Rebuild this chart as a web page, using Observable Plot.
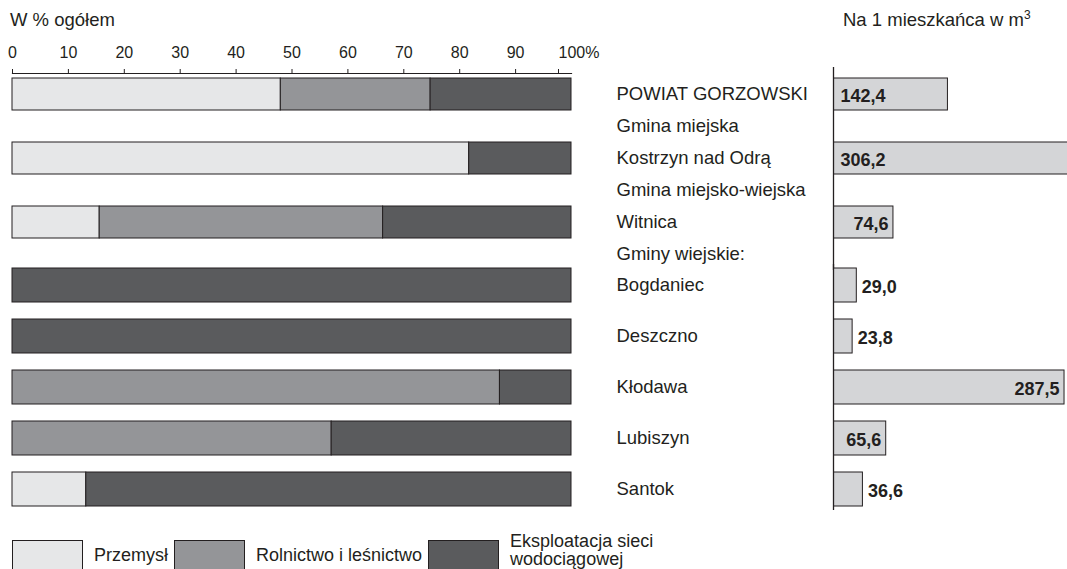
<!DOCTYPE html>
<html><head><meta charset="utf-8">
<script src="https://cdn.jsdelivr.net/npm/d3@7"></script>
<script src="https://cdn.jsdelivr.net/npm/@observablehq/plot@0.6"></script>
<style>
html,body{margin:0;padding:0;background:#fff;}
#root{position:relative;width:1067px;height:569px;overflow:hidden;font-family:"Liberation Sans",Arial,sans-serif;color:#231f20;}
.title{position:absolute;font-size:18.5px;line-height:22px;white-space:nowrap;}
.title sup{font-size:12px;line-height:0;vertical-align:7px;}
#legend{position:absolute;left:12px;top:537px;display:flex;align-items:center;font-size:18px;line-height:18px;}
#legend .sw{width:69px;height:29px;border:1px solid #231f20;box-sizing:content-box;}
#legend .lb{margin-left:11px;margin-right:6px;}
#legend .lb.multi{position:relative;top:-5px;}
</style></head><body><div id="root"></div>
<script>
// ---- data ----
const topRows = ["POWIAT GORZOWSKI","Gmina miejska","Kostrzyn nad Odrą","Gmina miejsko-wiejska","Witnica","Gminy wiejskie:"];
const bottomRows = ["Bogdaniec","Deszczno","Kłodawa","Lubiszyn","Santok"];
const units = ["POWIAT GORZOWSKI","Kostrzyn nad Odrą","Witnica","Bogdaniec","Deszczno","Kłodawa","Lubiszyn","Santok"];
const sectors = ["Przemysł","Rolnictwo i leśnictwo","Eksploatacja sieci wodociągowej"];
const przemysl     = [48.0, 81.7, 15.6,   0,   0,    0,    0, 13.2];
const rolnictwo    = [26.8,    0, 50.7,   0,   0, 87.2, 57.1,    0];
const eksploatacja = [25.2, 18.3, 33.7, 100, 100, 12.8, 42.9, 86.8];
const perCapita    = [142.4, 306.2, 74.6, 29.0, 23.8, 287.5, 65.6, 36.6];
const pctTicks = [0,10,20,30,40,50,60,70,80,90,100];
const titleLeft = "W % ogółem";
const titleRight = "Na 1 mieszkańca w m";
const sectorColors = ["#e6e7e8","#949598","#5a5b5d"];

// ---- derived tables ----
const shares = units.flatMap((u,i)=>[przemysl[i],rolnictwo[i],eksploatacja[i]]
  .map((v,j)=>({unit:u, sector:sectors[j], value:v}))).filter(d=>d.value>0);
const pc = units.map((u,i)=>({unit:u, value:perCapita[i]}));
const fmt = v => v.toFixed(1).replace(".", ",");
const ink = "#231f20";
const font = "'Liberation Sans', Arial, sans-serif";
const startInside = new Set(["POWIAT GORZOWSKI","Kostrzyn nad Odrą"]);

const root = document.getElementById("root");
function place(el, left, top){ el.style.position="absolute"; el.style.left=left+"px"; el.style.top=top+"px"; root.appendChild(el); }

function leftPlot(rows, o){
  const marks = [
    Plot.barX(shares.filter(d=>rows.includes(d.unit)), {y:"unit", x:"value", fill:"sector", stroke:ink, strokeWidth:1})
  ];
  const ax = {anchor:"top", tickSize:5, tickPadding:11, fontSize:16, stroke:ink, fill:ink, label:null};
  if (o.axis) marks.push(
    Plot.frame({anchor:"top", stroke:ink, strokeWidth:1.2}),
    Plot.axisX({...ax, ticks: pctTicks.slice(0,-1)}),
    Plot.axisX({...ax, ticks: [100], textAnchor:"start", dx:-13, tickFormat:d=>d+"%"})
  );
  return Plot.plot({
    width:600, height:o.height, marginLeft:12, marginRight:29, marginTop:o.marginTop, marginBottom:0,
    style:{background:"transparent", overflow:"visible", fontFamily:font, fontSize:"16px", color:ink},
    x:{domain:[0,100], axis:null},
    y:{domain:rows, axis:null, ...o.y},
    color:{domain:sectors, range:sectorColors},
    marks
  });
}

function rightPlot(rows, o){
  const data = pc.filter(d=>rows.includes(d.unit));
  const txt = {y:"unit", text:d=>fmt(d.value), fontWeight:"bold", fontSize:18, fill:ink, dy:2};
  return Plot.plot({
    width:467, height:o.height, marginLeft:233, marginRight:0, marginTop:o.marginTop, marginBottom:0,
    style:{background:"transparent", overflow:"visible", fontFamily:font, fontSize:"18.5px", color:ink},
    x:{domain:[0,291.2], axis:null},
    y:{domain:rows, label:null, ...o.y},
    marks:[
      Plot.barX(data, {y:"unit", x:"value", fill:"#d4d5d7", stroke:ink, strokeWidth:1, clip:true}),
      Plot.ruleX([0], {stroke:ink, strokeWidth:1.3}),
      Plot.axisY({tickSize:0, tickPadding:217, textAnchor:"start", fontSize:18.5, fill:ink, label:null}),
      Plot.text(data.filter(d=>startInside.has(d.unit)), {...txt, x:()=>0, textAnchor:"start", dx:7}),
      Plot.text(data.filter(d=>!startInside.has(d.unit) && d.value>=40), {...txt, x:"value", textAnchor:"end", dx:-5}),
      Plot.text(data.filter(d=>!startInside.has(d.unit) && d.value<40), {...txt, x:"value", textAnchor:"start", dx:5})
    ]
  });
}

const topY = {padding:0};
const botY = {paddingInner:0.34, paddingOuter:0.058, align:0.5};
place(leftPlot(topRows, {height:270, marginTop:73, axis:true, y:{...topY, insetTop:5}}), 0, 0);
place(leftPlot(bottomRows, {height:246, marginTop:0, y:botY}), 0, 264);
place(rightPlot(topRows, {height:270, marginTop:67, y:{...topY, insetTop:11}}), 600, 0);
place(rightPlot(bottomRows, {height:246, marginTop:0, y:botY}), 600, 264);

// titles
const t1 = document.createElement("div"); t1.className="title"; t1.textContent=titleLeft; place(t1, 10, 9);
const t2 = document.createElement("div"); t2.className="title"; t2.innerHTML=titleRight+"<sup>3</sup>"; place(t2, 843, 9);

// legend
const lg = document.createElement("div"); lg.id="legend";
sectors.forEach((s,i)=>{
  const sw=document.createElement("div"); sw.className="sw"; sw.style.background=sectorColors[i]; lg.appendChild(sw);
  const lb=document.createElement("div"); lb.className="lb"; lb.textContent=s;
  if(i===sectors.length-1){lb.style.width="150px"; lb.classList.add("multi");}
  lg.appendChild(lb);
});
root.appendChild(lg);
</script></body></html>
